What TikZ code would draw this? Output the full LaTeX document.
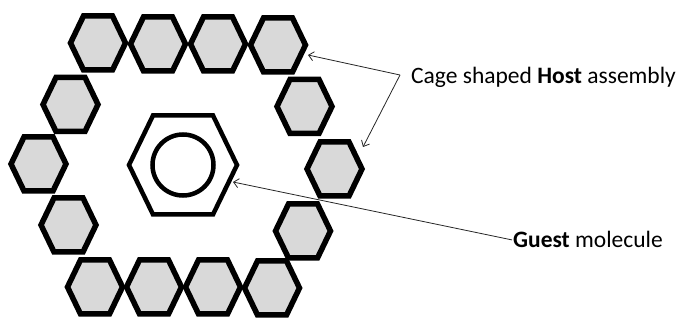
\documentclass[tikz,border=0pt]{standalone}
\usepackage{fontspec}
\setmainfont{Carlito}
\usetikzlibrary{arrows.meta}

\definecolor{cellgray}{RGB}{217,217,217}

\begin{document}
\begin{tikzpicture}[
        x=1pt, y=-1pt,
        % Define styles for the cage, the guest and the notes
        cellline/.style={draw=black, line width=5.5pt, line join=miter, fill=cellgray},
        guestline/.style={draw=black, line width=4.5pt, line join=miter},
        pointer/.style={draw=black!85, line width=0.8pt, -{Straight Barb[length=5pt, width=9pt]}},
        notetext/.style={font=\fontsize{23.5}{28}\selectfont, inner sep=1pt, anchor=base west},
        hexcell/.pic={\path[cellline] (-27.5,0) -- (-14.5,-27) -- (14.5,-27) -- (27.5,0) -- (14.5,27) -- (-14.5,27) -- cycle;}
    ]
    \useasboundingbox (0,0) rectangle (678,320);

    % --- HOST CAGE ---
    % ring of cells, clockwise from top left
    \foreach \cx/\cy in {98/43, 158/44, 218/44, 278/45, 304.5/106.5, 334.5/169, 303/231,
                         272/288, 213/287, 154/287, 95/287, 68.5/225, 38.5/164, 70.5/104.5}
        \pic at (\cx,\cy) {hexcell};

    % --- GUEST ---
    \coordinate (guest) at (183,165);
    \draw[guestline, shift={(guest)}] (-54,0) -- (-30,-49.5) -- (30,-49.5) -- (54,0) -- (30,49.5) -- (-30,49.5) -- cycle;
    \draw[guestline] (guest) circle[radius=30.5];

    % --- NOTES ---
    \node[notetext] (hosttext) at (410,84) {Cage shaped \textbf{Host} assembly};
    \node[notetext] (guesttext) at (512,248) {\textbf{Guest} molecule};

    % --- POINTERS ---
    \coordinate (hostfork) at (400,75);
    \coordinate (cagetip1) at (308,55);
    \coordinate (cagetip2) at (363,147);
    \coordinate (guesttip) at (233,182);
    \draw[pointer] (hostfork) -- (cagetip1);
    \draw[pointer] (hostfork) -- (cagetip2);
    \draw[pointer] (guesttext.west) -- (guesttip);

\end{tikzpicture}
\end{document}
